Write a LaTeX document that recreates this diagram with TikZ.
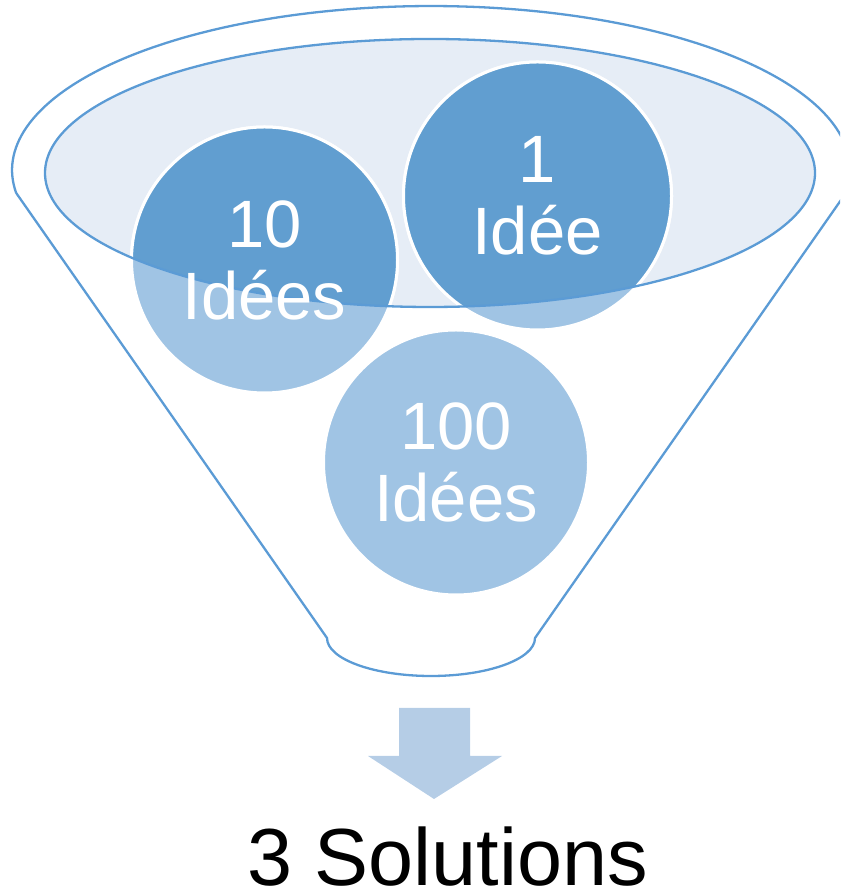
\documentclass[tikz,border=0pt]{standalone}
\usepackage{fontspec}
\setmainfont{Liberation Sans}
\definecolor{funnelline}{HTML}{5B9BD5}
\definecolor{rimfill}{HTML}{E6EDF6}
\definecolor{ideadark}{HTML}{619ED0}
\definecolor{idealight}{HTML}{A0C4E4}
\definecolor{arrowfill}{HTML}{B5CDE6}
\begin{document}
\begin{tikzpicture}[x=1pt,y=1pt,
  rim/.style={draw=funnelline, line width=2.3pt, line join=round},
  idea/.style={circle, fill=idealight, draw=white, line width=3pt,
    inner sep=0pt, minimum size=#1},
  ideatext/.style={text=white, align=center, inner sep=0pt,
    font=\fontsize{67}{72}\selectfont},
  resulttext/.style={anchor=base, inner sep=0pt,
    font=\fontsize{81}{90}\selectfont}]
\useasboundingbox (0,0) rectangle (840,896);
\begin{scope}
  \clip (0,0) rectangle (840,896);
  % funnel body: sides, narrow bottom and wide top rim
  \draw[rim] (16.2,703) -- (327,258)
    arc[start angle=180, end angle=360, x radius=104, y radius=38]
    -- (845.9,703)
    arc[start angle=-8.05, end angle=188.05, x radius=419, y radius=164]
    -- cycle;
  % inner opening of the funnel
  \fill[rimfill] (430,723) ellipse[x radius=385, y radius=134];
  % idea bubbles
  \node[idea=266] (a) at (264.5,636) {};
  \node[idea=268] (b) at (537.5,700) {};
  \node[idea=265] (c) at (456,433.5) {};
  % darker part of the bubbles inside the opening
  \begin{scope}
    \clip (430,723) ellipse[x radius=385, y radius=134];
    \path[fill=ideadark, draw=white, line width=3pt] (a.center) circle[radius=133];
    \path[fill=ideadark, draw=white, line width=3pt] (b.center) circle[radius=134];
  \end{scope}
  \draw[rim] (430,723) ellipse[x radius=385, y radius=134];
  % bubble labels
  \node[ideatext] (ta) at (a.center) {10\\Idées};
  \node[ideatext] (tb) at (b.center) {1\\Idée};
  \node[ideatext] (tc) at (c.center) {100\\Idées};
  % outlet arrow
  \fill[arrowfill] (399,188) -- (470,188) -- (470,140) -- (502,140)
    -- (434,97) -- (368,140) -- (399,140) -- cycle;
  \node[resulttext] (sol) at (447.5,10) {3 Solutions};
\end{scope}
\end{tikzpicture}
\end{document}
